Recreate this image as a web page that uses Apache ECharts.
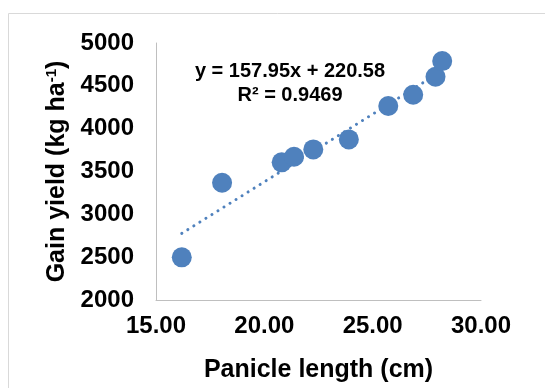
<!DOCTYPE html>
<html>
<head>
<meta charset="utf-8">
<script src="https://cdn.jsdelivr.net/npm/echarts@6/dist/echarts.min.js"></script>
<style>
  html, body { margin: 0; padding: 0; background: #fff; }
  #chart { width: 545px; height: 388px; }
</style>
</head>
<body>
<div id="chart"></div>
<script>
// panicle length (cm) vs grain yield (kg/ha)
const panicleLength = [16.19, 18.05, 20.8, 21.37, 22.26, 23.9, 25.72, 26.87, 27.9, 28.21];
const grainYield = [2498, 3369, 3607, 3672, 3758, 3875, 4264, 4396, 4606, 4789];

// linear trendline, as printed on the chart
const slope = 157.95;
const intercept = 220.58;
const rSquared = "0.9469";

const xTicks = [15, 20, 25, 30];
const yTicks = [2000, 2500, 3000, 3500, 4000, 4500, 5000];

const blue = "#4F81BD";
const font = "Liberation Sans, Arial, sans-serif";

const points = panicleLength.map((x, i) => [x, grainYield[i]]);
const xMin = Math.min(...panicleLength);
const xMax = Math.max(...panicleLength);
const trend = [
  [xMin, slope * xMin + intercept],
  [xMax, slope * xMax + intercept],
];

let chart = echarts.init(document.getElementById("chart"));
chart.setOption({
  animation: false,
  textStyle: { fontFamily: font },
  grid: { left: 156, top: 43, right: 64, bottom: 88 },
  graphic: [
    {
      type: "rect",
      shape: { x: 8.5, y: 13.5, width: 600, height: 400 },
      style: { fill: "none", stroke: "#D9D9D9", lineWidth: 1 },
      silent: true,
      z: -10,
    },
    {
      type: "text",
      x: 290,
      y: 59,
      style: {
        text: `y = ${slope}x + ${intercept}\nR² = ${rSquared}`,
        align: "center",
        verticalAlign: "top",
        font: `bold 20px ${font}`,
        fill: "#000",
        lineHeight: 24,
      },
      z: 20,
    },
  ],
  xAxis: {
    type: "value",
    min: xTicks[0],
    max: xTicks[xTicks.length - 1],
    interval: 5,
    name: "Panicle length (cm)",
    nameLocation: "middle",
    nameGap: 58,
    nameTextStyle: { fontSize: 25, fontWeight: "bold", color: "#000" },
    axisLine: { lineStyle: { color: "#BFBFBF", width: 1 } },
    axisTick: { show: false },
    splitLine: { show: false },
    axisLabel: {
      margin: 14,
      fontSize: 24,
      fontWeight: "bold",
      color: "#000",
      formatter: (v) => v.toFixed(2),
    },
  },
  yAxis: {
    type: "value",
    min: yTicks[0],
    max: yTicks[yTicks.length - 1],
    interval: 500,
    name: "{n|Gain yield (kg ha}{s|-1}{n|)}",
    nameLocation: "middle",
    nameGap: 80,
    nameTextStyle: {
      rich: {
        n: { fontSize: 25, fontWeight: "bold", color: "#000", fontFamily: font },
        s: { fontSize: 15, fontWeight: "bold", color: "#000", fontFamily: font, verticalAlign: "top" },
      },
    },
    axisLine: { show: true, lineStyle: { color: "#BFBFBF", width: 1 } },
    axisTick: { show: false },
    splitLine: { show: false },
    axisLabel: {
      margin: 22,
      fontSize: 24,
      fontWeight: "bold",
      color: "#000",
      formatter: (v) => String(v),
    },
  },
  series: [
    {
      name: "trend",
      type: "line",
      data: trend,
      symbol: "none",
      lineStyle: { color: blue, width: 3, type: [0.1, 7], cap: "round" },
      z: 1,
    },
    {
      name: "yield",
      type: "scatter",
      data: points,
      symbolSize: 20,
      itemStyle: { color: blue, opacity: 1 },
      z: 2,
    },
  ],
});
</script>
</body>
</html>
